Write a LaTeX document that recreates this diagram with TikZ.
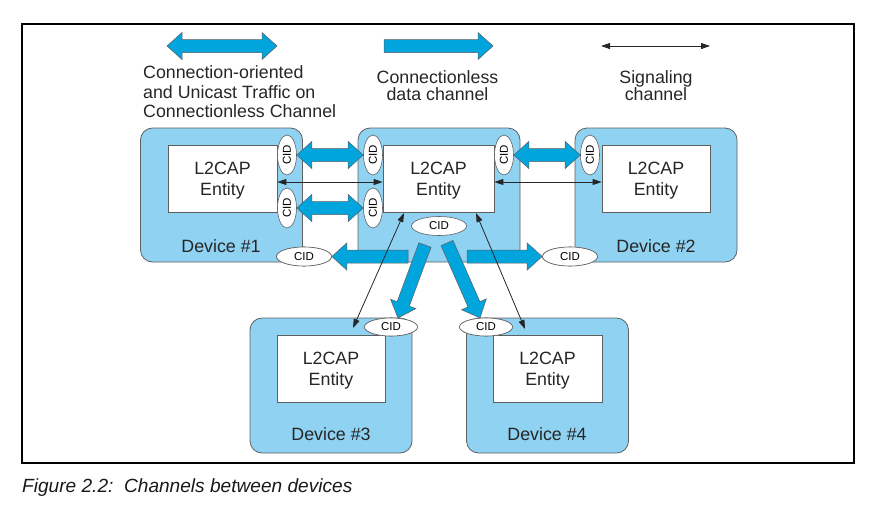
\documentclass[tikz,border=0pt]{standalone}
\usepackage{fontspec}
\setmainfont{Liberation Sans}
\usetikzlibrary{calc,arrows.meta,shapes.geometric}
\definecolor{devblue}{RGB}{143,210,242}
\definecolor{arrblue}{RGB}{0,165,222}
\definecolor{edgegray}{RGB}{95,95,95}
\tikzset{
  device/.style={draw=edgegray, line width=0.8pt, fill=devblue, rounded corners=12pt, minimum width=162pt, minimum height=134pt, inner sep=0pt},
  entity/.style={draw=edgegray, line width=0.7pt, fill=white, minimum width=109pt, minimum height=67pt, inner sep=0pt},
  cidv/.style={ellipse, draw=edgegray, fill=white, line width=0.6pt, minimum width=19pt, minimum height=40pt, inner sep=0pt, font=\fontsize{11.5}{12}\selectfont},
  cidh/.style={ellipse, draw=edgegray, fill=white, line width=0.6pt, minimum width=55pt, minimum height=19pt, inner sep=0pt, font=\fontsize{11.5}{12}\selectfont},
  fat/.style={fill=arrblue, draw=edgegray, line width=0.5pt, line join=miter},
  sig/.style={draw=black!85, line width=0.8pt, {Triangle[length=9pt,width=6pt]}-{Triangle[length=9pt,width=6pt]}},
  txt/.style={anchor=base, inner sep=0pt, font=\fontsize{17.8}{20}\selectfont, text=black!85},
  txtl/.style={anchor=base west, inner sep=0pt, font=\fontsize{17.8}{20}\selectfont, text=black!85},
}
% fat single arrow from tail #1 to tip #2
\newcommand\fatsingle[2]{%
  \path (#1) coordinate (fs) (#2) coordinate (fe);
  \path ($(fe)!15pt!(fs)$) coordinate (fe1);
  \filldraw[fat] ($(fs)!6.5pt!90:(fe)$) -- ($(fe1)!6.5pt!-90:(fs)$) -- ($(fe1)!13.5pt!-90:(fs)$) -- (fe)
     -- ($(fe1)!13.5pt!90:(fs)$) -- ($(fe1)!6.5pt!90:(fs)$) -- ($(fs)!6.5pt!-90:(fe)$) -- cycle;}
% fat double arrow between #1 and #2
\newcommand\fatdouble[2]{%
  \path (#1) coordinate (fs) (#2) coordinate (fe);
  \path ($(fs)!15pt!(fe)$) coordinate (fs1) ($(fe)!15pt!(fs)$) coordinate (fe1);
  \filldraw[fat] (fs) -- ($(fs1)!13.5pt!-90:(fe)$) -- ($(fs1)!6.5pt!-90:(fe)$) -- ($(fe1)!6.5pt!90:(fs)$)
     -- ($(fe1)!13.5pt!90:(fs)$) -- (fe) -- ($(fe1)!13.5pt!-90:(fs)$) -- ($(fe1)!6.5pt!-90:(fs)$)
     -- ($(fs1)!6.5pt!90:(fe)$) -- ($(fs1)!13.5pt!90:(fe)$) -- cycle;}
\begin{document}
\begin{tikzpicture}[x=1pt,y=-1pt]
\useasboundingbox (0,0) rectangle (877,509);
% frame
\draw[line width=1.3pt, black] (22,24) rectangle (854,463);

% legend
\coordinate (lgA1) at (167,46);
\coordinate (lgA2) at (277,46);
\coordinate (lgB1) at (384,46);
\coordinate (lgB2) at (493,46);
\coordinate (lgC1) at (601,46);
\coordinate (lgC2) at (710,46);
\fatdouble{lgA1}{lgA2}
\fatsingle{lgB1}{lgB2}
\draw[sig] (lgC1) -- (lgC2);
\node[txtl] (lt1) at (143,78) {Connection-oriented};
\node[txtl] (lt2) at (143,98) {and Unicast Traffic on};
\node[txtl] (lt3) at (143,117.5) {Connectionless Channel};
\node[txt] (lt4) at (437.5,83) {Connectionless};
\node[txt] (lt5) at (437.5,100) {data channel};
\node[txt] (lt6) at (656,83) {Signaling};
\node[txt] (lt7) at (656,100) {channel};

% devices
\node[device] (dev1) at (221.5,195) {};
\node[device] (dev0) at (439,195) {};
\node[device] (dev2) at (656,195) {};
\node[device, minimum height=135pt] (dev3) at (331,385.5) {};
\node[device, minimum height=135pt] (dev4) at (547.5,385.5) {};

% entities
\node[entity] (ent1) at (222.5,178.5) {};
\node[entity, minimum width=111pt] (ent0) at (438.5,178.5) {};
\node[entity, minimum width=108pt] (ent2) at (656,178.5) {};
\node[entity, minimum width=108pt] (ent3) at (331,368.5) {};
\node[entity] (ent4) at (547.5,368.5) {};

\foreach \e in {ent1,ent0,ent2,ent3,ent4}{
  \node[txt] at ($(\e.center)+(0,-4.5)$) {L2CAP};
  \node[txt] at ($(\e.center)+(0,17)$) {Entity};
}
\node[txt] (lab1) at (221,252) {Device \#1};
\node[txt] (lab2) at (656,252) {Device \#2};
\node[txt] (lab3) at (331,440) {Device \#3};
\node[txt] (lab4) at (547,440) {Device \#4};

% CID ellipse positions
\coordinate (pA) at (287,155);
\coordinate (pB) at (287,208);
\coordinate (pC) at (373,155);
\coordinate (pD) at (373,208);
\coordinate (pE) at (504,155);
\coordinate (pF) at (590,155);

% fat arrow free ends
\coordinate (tL) at (408,256.5);
\coordinate (tR) at (467,256.5);
\coordinate (tDL) at (425,245);
\coordinate (hDL) at (398,318);
\coordinate (tDR) at (447,243);
\coordinate (hDR) at (480,318);
\node[cidv] (cA) at (pA) {\rotatebox{90}{CID}};
\node[cidv] (cB) at (pB) {\rotatebox{90}{CID}};
\node[cidv] (cC) at (pC) {\rotatebox{90}{CID}};
\node[cidv] (cD) at (pD) {\rotatebox{90}{CID}};
\node[cidv] (cE) at (pE) {\rotatebox{90}{CID}};
\node[cidv] (cF) at (pF) {\rotatebox{90}{CID}};
\node[cidh] (cG) at (439,226) {CID};
\path (304,256.5) coordinate (pH) (570,256.5) coordinate (pI) (391,327) coordinate (pJ) (486,327) coordinate (pK);

\fatdouble{cA.east}{cC.west}
\fatdouble{cB.east}{cD.west}
\fatdouble{cE.east}{cF.west}

\node[cidh] (cH) at (pH) {CID};
\node[cidh] (cI) at (pI) {CID};
\node[cidh, minimum width=53pt, minimum height=18pt] (cJ) at (pJ) {CID};
\node[cidh, minimum width=53pt, minimum height=18pt] (cK) at (pK) {CID};

\fatsingle{tL}{cH.east}
\fatsingle{tR}{cI.west}
\fatsingle{tDL}{hDL}
\fatsingle{tDR}{hDR}

% keep the CID ellipses above the arrow tips
\node[cidh] at (cH) {CID};
\node[cidh] at (cI) {CID};
\node[cidh, minimum width=53pt, minimum height=18pt] at (cJ) {CID};
\node[cidh, minimum width=53pt, minimum height=18pt] at (cK) {CID};

% signaling channels
\coordinate (sy) at (0,182);
\coordinate (s3a) at (404,213);
\coordinate (s3b) at (353,328);
\coordinate (s4a) at (476,213);
\coordinate (s4b) at (525,329);
\draw[sig] (ent1.east |- sy) -- (ent0.west |- sy);
\draw[sig] (ent0.east |- sy) -- (ent2.west |- sy);
\draw[sig] (s3a) -- (s3b);
\draw[sig] (s4a) -- (s4b);

% caption
\node[anchor=base west, inner sep=0pt, font=\fontsize{19.1}{22}\selectfont\itshape, text=black!90] (cap) at (22,492) {Figure 2.2:\ \ Channels between devices};
\end{tikzpicture}
\end{document}
